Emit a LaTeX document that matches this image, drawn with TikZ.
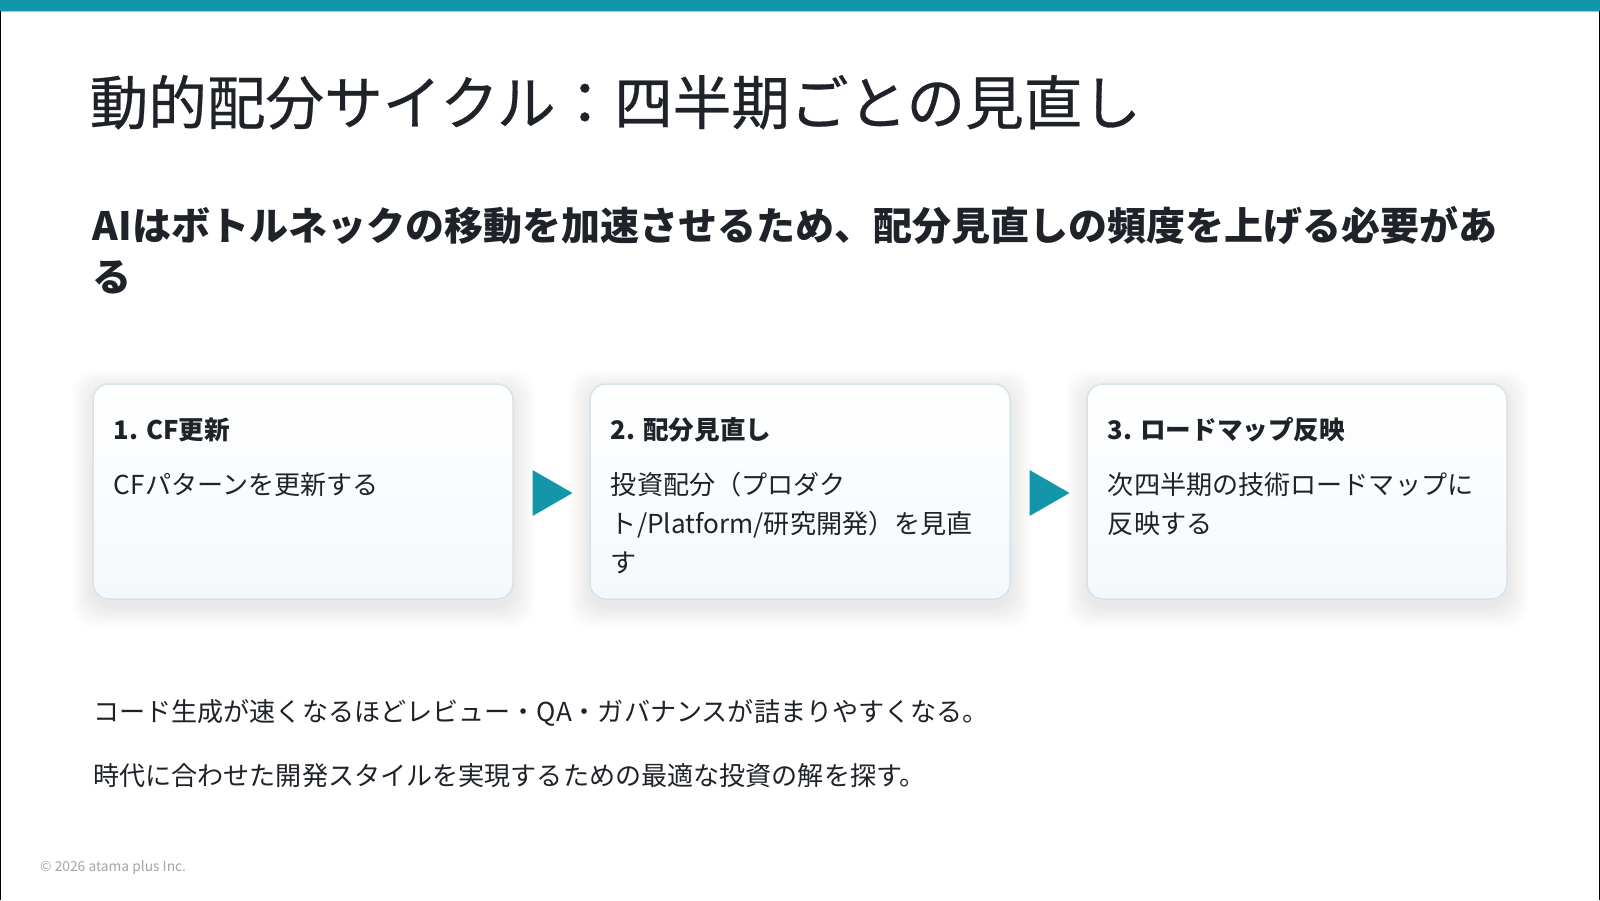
\documentclass[tikz,border=0pt]{standalone}
\usepackage{fontspec}
\setmainfont{Noto Sans CJK JP}
\newfontfamily\titlefont{Noto Sans CJK JP}[FakeBold=0.5]
\usetikzlibrary{backgrounds,calc}
\definecolor{teal1}{HTML}{1395AA}
\definecolor{ink}{HTML}{1F2329}
\definecolor{cardline}{HTML}{D7E3EA}
\definecolor{cardbot}{HTML}{F5F8FB}
\definecolor{foot}{HTML}{A3A7AB}
\begin{document}
\begin{tikzpicture}[x=1pt,y=-1pt,
  txt/.style={anchor=base west, inner sep=0pt, text=ink},
  ttl/.style={txt, font=\titlefont\fontsize{58.6}{62}\selectfont},
  subt/.style={txt, font=\fontsize{39}{44}\selectfont\bfseries},
  head/.style={txt, font=\fontsize{25.6}{30}\selectfont\bfseries},
  body/.style={txt, font=\fontsize{26.1}{30}\selectfont},
  foottxt/.style={txt, text=foot, font=\fontsize{13.8}{17}\selectfont},
  card/.style={draw=cardline, line width=1.5pt, rounded corners=16pt,
    top color=white, bottom color=cardbot,
    minimum width=420pt, minimum height=215pt, inner sep=0pt},
  tri/.style={fill=teal1, draw=none},
  shadowlayer/.style={fill=black, opacity=0.0075, rounded corners=22pt},
]
\useasboundingbox (0,0) rectangle (1600,900);

% top bar and side rules
\fill[teal1] (0,0) rectangle (1600,11);
\fill[teal1!45] (0,11) rectangle (1600,12);
\fill[black] (0,11) rectangle (1.3,900);
\fill[black] (1598.7,11) rectangle (1600,900);

% title and subtitle
\node[ttl] (title) at (89.5,124.5) {動的配分サイクル：四半期ごとの見直し};
\node[subt] (sub1) at (92.5,240.5) {AIはボトルネックの移動を加速させるため、配分見直しの頻度を上げる必要があ};
\node[subt] (sub2) at (92.5,291.5) {る};

% cards
\node[card] (c1) at (303,491.5) {};
\node[card] (c2) at (800,491.5) {};
\node[card] (c3) at (1297,491.5) {};

\node[head] (h1) at ($(c1.north west)+(21.5,56)$) {1. CF更新};
\node[body] (b1a) at ($(c1.north west)+(21.5,111)$) {CFパターンを更新する};

\node[head] (h2) at ($(c2.north west)+(21.5,56)$) {2. 配分見直し};
\node[body] (b2a) at ($(c2.north west)+(21.5,111)$) {投資配分（プロダク};
\node[body] (b2b) at ($(c2.north west)+(21.5,150)$) {ト/Platform/研究開発）を見直};
\node[body] (b2c) at ($(c2.north west)+(21.5,189)$) {す};

\node[head] (h3) at ($(c3.north west)+(21.5,56)$) {3. ロードマップ反映};
\node[body] (b3a) at ($(c3.north west)+(21.5,111)$) {次四半期の技術ロードマップに};
\node[body] (b3b) at ($(c3.north west)+(21.5,150)$) {反映する};

% arrows between cards
\coordinate (a1) at ($($(c1.east)!0.5!(c2.west)$)+(0,1.5)$);
\coordinate (a2) at ($($(c2.east)!0.5!(c3.west)$)+(0,1.5)$);
\fill[tri] ($(a1)+(-19,-23)$) -- ($(a1)+(21,0)$) -- ($(a1)+(-19,23)$) -- cycle;
\fill[tri] ($(a2)+(-19,-23)$) -- ($(a2)+(21,0)$) -- ($(a2)+(-19,23)$) -- cycle;

% bottom text
\node[body] (l1) at (93,721.5) {コード生成が速くなるほどレビュー・QA・ガバナンスが詰まりやすくなる。};
\node[body] (l2) at (93,785) {時代に合わせた開発スタイルを実現するための最適な投資の解を探す。};

% footer
\node[foottxt] (foot) at (40,871.5) {© 2026 atama plus Inc.};

% background and soft shadows
\begin{scope}[on background layer]
  \fill[white] (1.3,12) rectangle (1598.7,900);
  \foreach \c in {c1,c2,c3}{
    \foreach \k in {1,3,...,21}{
      \fill[shadowlayer] ($(\c.north west)+(-\k,-\k+7)$) rectangle ($(\c.south east)+(\k,\k+7)$);
    }
  }
\end{scope}
\end{tikzpicture}
\end{document}
